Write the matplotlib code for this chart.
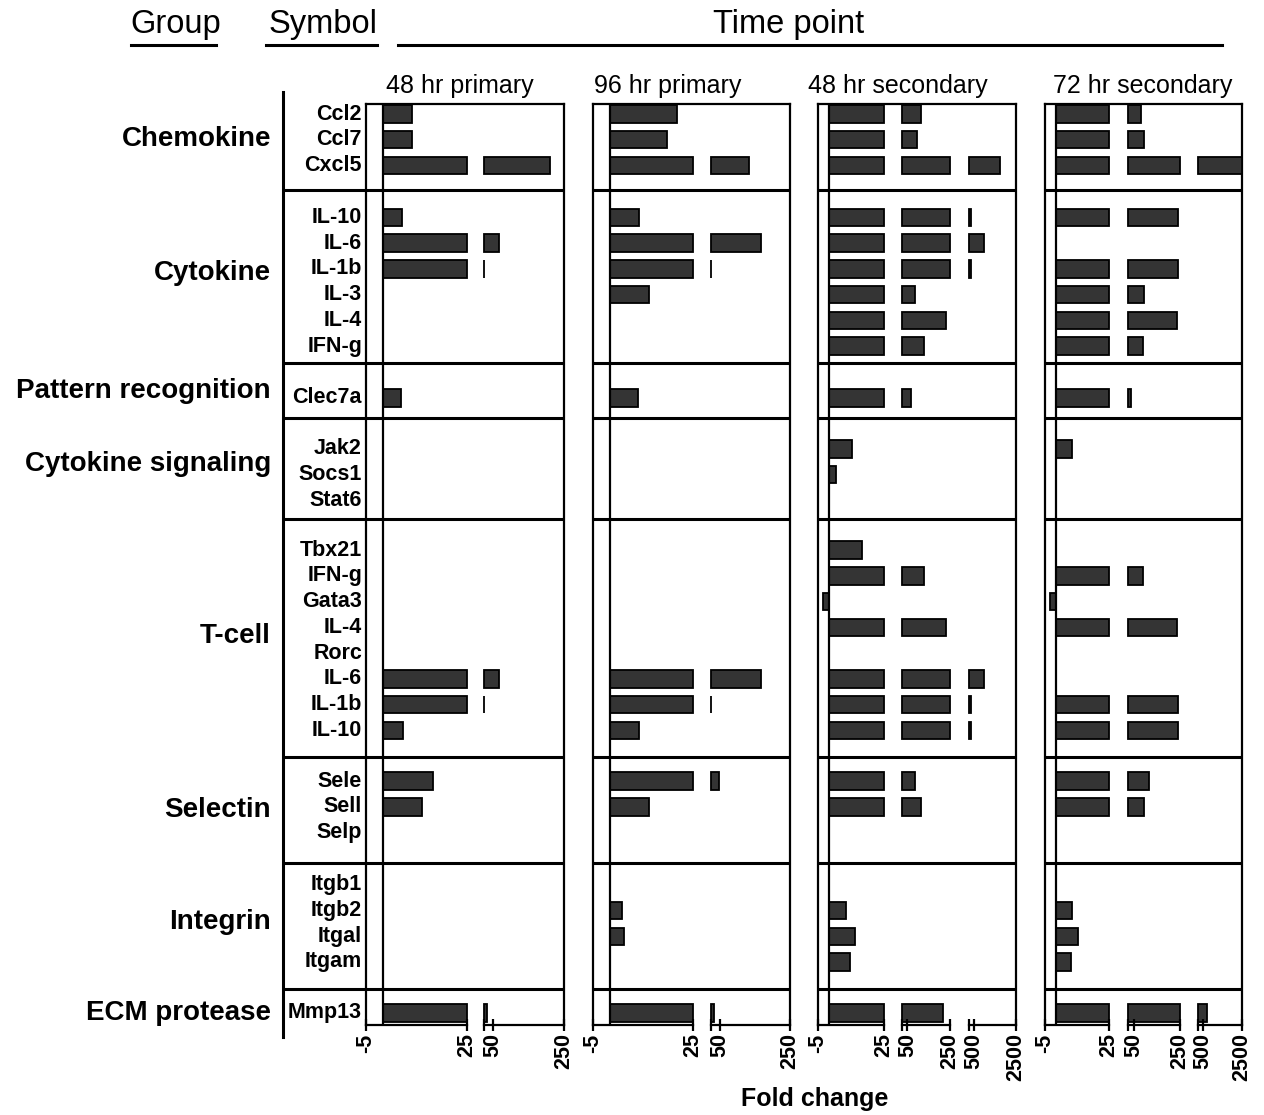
"""Fold-change bar panels with broken x axes, grouped by gene family."""
import numpy as np
import matplotlib

matplotlib.use("Agg")
import matplotlib.pyplot as plt
from matplotlib import transforms
from matplotlib.lines import Line2D

plt.rcParams["font.family"] = ["Liberation Sans", "DejaVu Sans"]

W, H = 1264, 1115

GROUPS = ["Chemokine", "Cytokine", "Pattern recognition", "Cytokine signaling",
          "T-cell", "Selectin", "Integrin", "ECM protease"]
GENES = [
    ["Ccl2", "Ccl7", "Cxcl5"],
    ["IL-10", "IL-6", "IL-1b", "IL-3", "IL-4", "IFN-g"],
    ["Clec7a"],
    ["Jak2", "Socs1", "Stat6"],
    ["Tbx21", "IFN-g", "Gata3", "IL-4", "Rorc", "IL-6", "IL-1b", "IL-10"],
    ["Sele", "Sell", "Selp"],
    ["Itgb1", "Itgb2", "Itgal", "Itgam"],
    ["Mmp13"],
]
TIMEPOINTS = ["48 hr primary", "96 hr primary", "48 hr secondary", "72 hr secondary"]

# fold change, one value per gene in GENES order (nan = no bar)
n = np.nan
FC_48_PRIMARY = [8.8, 8.8, 212,
                 5.8, 68, 26, n, n, n,
                 5.3,
                 n, n, n,
                 n, n, n, n, n, 68, 26, 5.9,
                 14.8, 11.5, n,
                 n, n, n, n,
                 33]
FC_96_PRIMARY = [20.1, 17.3, 132,
                 8.9, 168, 26, 11.7, n, n,
                 8.5,
                 n, n, n,
                 n, n, n, n, n, 168, 26, 8.9,
                 48.6, 11.9, n,
                 n, 3.6, 4.2, n,
                 33]
FC_48_SECONDARY = [112, 96, 1733,
                   340, 968, 340, 85, 230, 127,
                   65,
                   10.5, 3.3, n,
                   15.2, 127, -2.7, 230, n, 968, 340, 340,
                   88, 112, n,
                   n, 7.5, 11.7, 9.5,
                   218]
FC_72_SECONDARY = [83, 95, 2480,
                   240, n, 240, 95, 236, 88,
                   38,
                   7.7, n, n,
                   n, 88, -2.5, 236, n, n, 240, 240,
                   116, 95, n,
                   n, 7.7, 10.6, 7,
                   685]
FOLD_CHANGE = [FC_48_PRIMARY, FC_96_PRIMARY, FC_48_SECONDARY, FC_72_SECONDARY]

# axis breaks: value range, ticks and tick labels of each segment
SEG_RANGES = [(-5, 25), (25, 250), (250, 2500)]
SEG_TICKS = [[-5, 25], [25, 50, 250], [250, 500, 2500]]
SEG_TICKLABELS = [["-5", "25"], ["", "50", "250"], ["", "500", "2500"]]

# ---- layout (pixels) ----
TOP, BOTTOM = 104, 1025
PANEL_SEGS_PX = [
    [(366, 467), (484, 564)],
    [(593, 693), (711, 790)],
    [(818, 884), (902, 950), (969, 1016)],
    [(1045, 1109), (1128, 1180), (1198, 1242)],
]
TITLE_X = [460, 668, 898, 1143]
PAD_TOP = [0.39, 1.05, 1.36, 1.2, 1.2, 0.93, 0.86, 0.93]
PAD_BOT = [0.97, 0.66, 0.78, 0.74, 1.05, 1.17, 1.05, 0.47]
LABEL_DY = [-0.3, -0.15, 0.0, -0.2, -0.1, 0.0, -0.15, 0.25]
BAR_H = 0.68
BAR_FACE = "#343434"


def px_rect(x0, x1, y0, y1):
    return [x0 / W, 1 - y1 / H, (x1 - x0) / W, (y1 - y0) / H]


def fig_line(fig, x0, x1, y0, y1, lw=2.0):
    fig.add_artist(Line2D([x0 / W, x1 / W], [1 - y0 / H, 1 - y1 / H],
                          transform=fig.transFigure, color="black", lw=lw))


# row positions in row units, going down from the top of the panels
row_y, seps, group_mid = [], [], []
pos = 0.0
for genes, pt, pb, dy in zip(GENES, PAD_TOP, PAD_BOT, LABEL_DY):
    start = pos
    pos += pt
    for i in range(len(genes)):
        row_y.append(pos + i)
    pos += len(genes) - 1 + pb
    seps.append(pos)
    group_mid.append((start + pos) / 2 + dy)
Y_TOTAL = pos
inner_seps = seps[:-1]
symbols = [g for genes in GENES for g in genes]

fig = plt.figure(figsize=(W / 100, H / 100), dpi=100)

# ---- header ----
fig.text(176 / W, 1 - 24 / H, "Group", ha="center", va="center", fontsize=23.5)
fig.text(323 / W, 1 - 24 / H, "Symbol", ha="center", va="center", fontsize=23.5)
fig.text(789 / W, 1 - 24 / H, "Time point", ha="center", va="center", fontsize=23.5)
fig_line(fig, 131, 216, 45, 45, lw=2.2)
fig_line(fig, 266, 377, 45, 45, lw=2.2)
fig_line(fig, 398, 1222, 45, 45, lw=2.2)

# ---- symbol column ----
lab = fig.add_axes(px_rect(283, 366, TOP, BOTTOM))
lab.set_ylim(Y_TOTAL, 0)
lab.set_xlim(0, 1)
lab.axis("off")
for s in inner_seps:
    lab.axhline(s, color="black", lw=2.2)
lab.plot([0, 0], [1 + 12 / (BOTTOM - TOP), -12 / (BOTTOM - TOP)], color="black",
         lw=2.2, transform=lab.transAxes, clip_on=False)
tr = transforms.blended_transform_factory(fig.transFigure, lab.transData)
for name, y in zip(symbols, row_y):
    lab.text(362 / W, y, name, transform=tr, ha="right", va="center",
             fontsize=15.5, fontweight="bold")
for name, y in zip(GROUPS, group_mid):
    lab.text(271 / W, y, name, transform=tr, ha="right", va="center",
             fontsize=20, fontweight="bold")

# ---- panels ----
for p, (segs, title, values) in enumerate(zip(PANEL_SEGS_PX, TIMEPOINTS, FOLD_CHANGE)):
    x0, x1 = segs[0][0], segs[-1][1]
    frame = fig.add_axes(px_rect(x0, x1, TOP, BOTTOM))
    frame.set_ylim(Y_TOTAL, 0)
    frame.set_xlim(0, 1)
    frame.set_xticks([])
    frame.set_yticks([])
    frame.spines["bottom"].set_visible(False)
    for side in ("left", "top", "right"):
        frame.spines[side].set_linewidth(1.6)
    for s in inner_seps:
        frame.axhline(s, color="black", lw=2.2)
    fig.text(TITLE_X[p] / W, 1 - 86 / H, title, ha="center", va="center", fontsize=18)

    for k, (sx0, sx1) in enumerate(segs):
        lo, hi = SEG_RANGES[k]
        ax = fig.add_axes(px_rect(sx0, sx1, TOP, BOTTOM))
        ax.patch.set_visible(False)
        ax.set_xlim(lo, hi)
        ax.set_ylim(Y_TOTAL, 0)
        for side in ("left", "top", "right"):
            ax.spines[side].set_visible(False)
        ax.spines["bottom"].set_linewidth(1.6)
        ax.set_yticks([])
        ax.set_xticks(SEG_TICKS[k])
        ax.set_xticklabels(SEG_TICKLABELS[k], rotation=90, fontsize=15.5,
                           fontweight="bold")
        ax.tick_params(axis="x", direction="inout", length=8, width=1.6, pad=2)
        if k == 0:
            ax.axvline(0, color="black", lw=1.6)
        for v, y in zip(values, row_y):
            if np.isnan(v):
                continue
            if k == 0:
                left, right = min(v, 0), min(max(v, 0), hi)
            else:
                if v <= lo:
                    continue
                left, right = lo, min(v, hi)
            ax.barh(y, right - left, left=left, height=BAR_H, color=BAR_FACE,
                    edgecolor="black", linewidth=1.3, clip_on=False)

fig.text(815 / W, 1 - 1099 / H, "Fold change", ha="center", va="center",
         fontsize=18, fontweight="bold")

fig.savefig("out.png", dpi=100)
